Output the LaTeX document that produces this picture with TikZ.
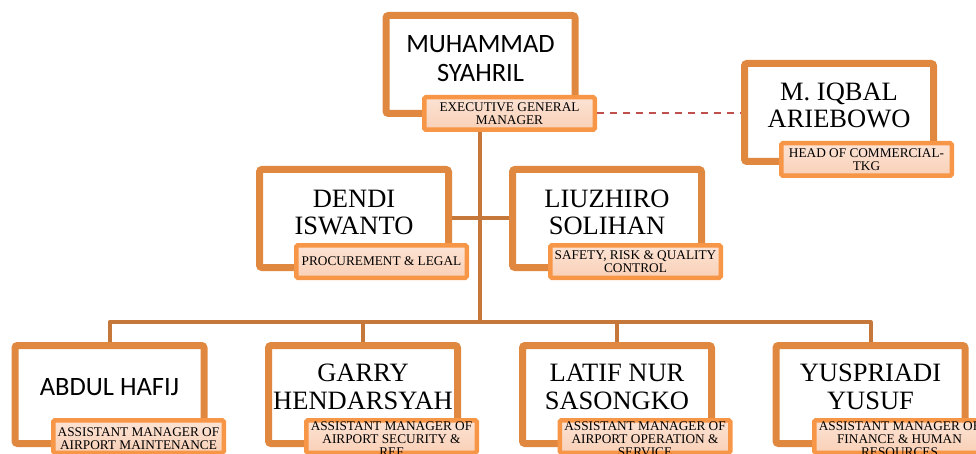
\documentclass[tikz,border=0pt]{standalone}
\usepackage{fontspec}
\setmainfont{Liberation Serif}
\newfontfamily\carl{Carlito}
\usetikzlibrary{shadows,backgrounds}
\definecolor{boxor}{HTML}{E0883F}
\definecolor{lblor}{HTML}{F79646}
\definecolor{linkor}{HTML}{C6773A}
\definecolor{lbltop}{HTML}{FCE3D4}
\definecolor{lblbot}{HTML}{F9D0B7}
\definecolor{dashred}{HTML}{C0504D}
\begin{document}
\begin{tikzpicture}[x=1pt,y=-1pt,
  personbox/.style={draw=boxor, line width=7pt, fill=white, rounded corners=2.5pt,
    minimum width=189pt, minimum height=98pt, inner sep=0pt,
    drop shadow={opacity=0.35, shadow xshift=1.5pt, shadow yshift=-2.5pt}},
  rolebox/.style={draw=lblor, line width=4.5pt, top color=lbltop, bottom color=lblbot,
    rounded corners=1.5pt, minimum width=170.5pt, minimum height=32.5pt, inner sep=0pt},
  nametext/.style={inner sep=0pt, align=center, font=\fontsize{26.5}{27.5}\selectfont},
  sansname/.style={nametext, font=\carl\fontsize{26.5}{28.5}\selectfont},
  roletext/.style={inner sep=0pt, align=center, font=\fontsize{13.3}{13.3}\selectfont},
  link/.style={draw=linkor, line width=4pt},
  dashline/.style={draw=dashred, line width=2pt, dash pattern=on 7pt off 6pt}]
\useasboundingbox (0,0) rectangle (976,454);
\clip (0,0) rectangle (976,454);

% persons
\node[personbox] (m) at (480.5,64.5) {};
\node[sansname] (mt) at ([yshift=6pt]m.center) {MUHAMMAD\\SYAHRIL};
\node[rolebox] (mr) at (509.5,113.5) {};
\node[roletext] (mrt) at (mr.center) {EXECUTIVE GENERAL\\MANAGER};

\node[personbox] (i) at (839,112.5) {};
\node[nametext] (it) at ([yshift=7pt]i.center) {M. IQBAL\\ARIEBOWO};
\node[rolebox] (ir) at (866.5,159.5) {};
\node[roletext] (irt) at (ir.center) {HEAD OF COMMERCIAL-\\TKG};

\node[personbox] (d) at (354,218.5) {};
\node[nametext] (dt) at ([yshift=6pt]d.center) {DENDI\\ISWANTO};
\node[rolebox] (dr) at (381.5,261.5) {};
\node[roletext] (drt) at (dr.center) {PROCUREMENT \& LEGAL};

\node[personbox] (l) at (607,218.5) {};
\node[nametext] (lt) at ([yshift=6pt]l.center) {LIUZHIRO\\SOLIHAN};
\node[rolebox] (lr) at (635.5,261.5) {};
\node[roletext] (lrt) at (lr.center) {SAFETY, RISK \& QUALITY\\CONTROL};

\node[personbox] (a) at (109.5,394.5) {};
\node[sansname] (at) at ([yshift=7.5pt]a.center) {ABDUL HAFIJ};
\node[rolebox] (ar) at (138.5,436.5) {};
\node[roletext] (art) at ([yshift=-2pt]ar.center) {ASSISTANT MANAGER OF\\AIRPORT MAINTENANCE};

\node[personbox] (g) at (363,394.5) {};
\node[nametext] (gt) at ([yshift=7.5pt]g.center) {GARRY\\HENDARSYAH};
\node[rolebox] (gr) at (391.5,436.5) {};
\node[roletext] (grt) at ([yshift=-2.5pt]gr.center) {ASSISTANT MANAGER OF\\AIRPORT SECURITY \&\\REF};

\node[personbox] (lat) at (617,394.5) {};
\node[nametext] (latt) at ([yshift=7.5pt]lat.center) {LATIF NUR\\SASONGKO};
\node[rolebox] (latr) at (645,436.5) {};
\node[roletext] (latrt) at ([yshift=-2.5pt]latr.center) {ASSISTANT MANAGER OF\\AIRPORT OPERATION \&\\SERVICE};

\node[personbox] (y) at (870.5,394.5) {};
\node[nametext] (yt) at ([yshift=7.5pt]y.center) {YUSPRIADI\\YUSUF};
\node[rolebox] (yr) at (899.5,436.5) {};
\node[roletext] (yrt) at ([yshift=-2.5pt]yr.center) {ASSISTANT MANAGER OF\\FINANCE \& HUMAN\\RESOURCES};

\coordinate (bus) at (480,322);

\begin{pgfonlayer}{background}
\draw[link] ([xshift=-0.5pt]m.center) -- (bus);
\draw[link] (d.east) -- (l.west);
\draw[link, line join=round] (a.north) -- (a.north |- bus) -- (y.north |- bus) -- (y.north);
\draw[link] (g.north |- bus) -- (g.north);
\draw[link] (lat.north |- bus) -- (lat.north);
\end{pgfonlayer}
\draw[dashline] ([yshift=0.5pt]mr.east) -- ([yshift=0.5pt]mr.east -| i.west);
\end{tikzpicture}
\end{document}
